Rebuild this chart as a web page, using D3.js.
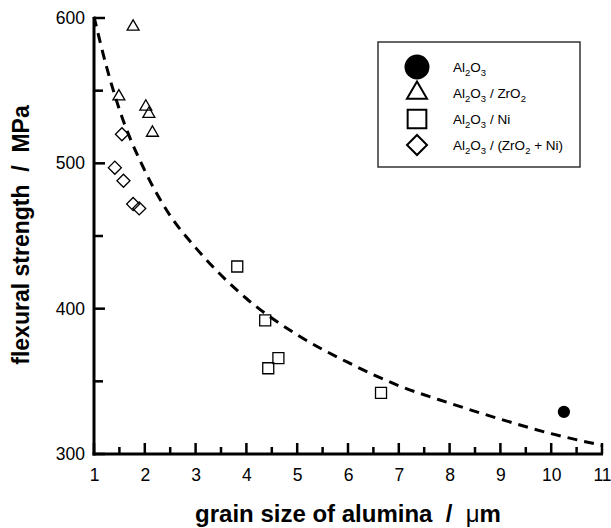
<!DOCTYPE html>
<html>
<head>
<meta charset="utf-8">
<script src="https://cdn.jsdelivr.net/npm/d3@7"></script>
<style>
  body { margin: 0; background: #fff; }
  svg { display: block; font-family: "Liberation Sans", Arial, sans-serif; }
  text { white-space: pre; }
</style>
</head>
<body>
<svg id="chart"></svg>
<script>
// data
const aluminaX = [10.25];
const aluminaY = [329];

const zro2X = [1.77, 1.49, 2.02, 2.08, 2.15];
const zro2Y = [594, 546, 539, 534, 521];

const niX = [3.82, 4.37, 4.63, 4.43, 6.65];
const niY = [429, 392, 366, 359, 342];

const zro2NiX = [1.55, 1.41, 1.58, 1.77, 1.89];
const zro2NiY = [520, 497, 488, 472, 469];

// dashed fit curve
const curveX = [1, 1.25, 1.5, 2, 2.5, 3, 4, 5, 6, 7, 8, 9, 10, 11];
const curveY = [601, 566, 537, 495, 464, 442, 407, 382, 363, 347, 335, 324, 314, 306];

const xTicks = [1, 2, 3, 4, 5, 6, 7, 8, 9, 10, 11];
const xMinor = [1.5, 2.5, 3.5, 4.5, 5.5, 6.5, 7.5, 8.5, 9.5, 10.5];
const yTicks = [300, 400, 500, 600];
const yMinor = [350, 450, 550];

const width = 611, height = 528;

const svg = d3.select("#chart")
    .attr("width", width)
    .attr("height", height);

const x = d3.scaleLinear().domain([1, 11]).range([94, 602]);
const y = d3.scaleLinear().domain([300, 600]).range([454, 18]);

//axes: labels from d3
const yAxis = d3.axisLeft(y).tickValues(yTicks).tickSize(0).tickPadding(9);
const xAxis = d3.axisBottom(x).tickValues(xTicks).tickSize(0).tickPadding(15);

svg.append("g").attr("transform", `translate(${x(1)},0)`).call(yAxis);
svg.append("g").attr("transform", `translate(0,${y(300)})`).call(xAxis);

svg.selectAll(".domain").remove();
svg.selectAll(".tick text")
    .attr("font-family", "Liberation Sans, Arial, sans-serif")
    .attr("font-size", 17.5)
    .attr("fill", "#000");

//axis frame and inward ticks as filled rects
const frame = svg.append("g").attr("fill", "#000");
frame.append("rect")
    .attr("x", x(1) - 1.5).attr("y", y(600) - 1)
    .attr("width", 3).attr("height", y(300) - y(600) + 2.5);
frame.append("rect")
    .attr("x", x(1) - 1.5).attr("y", y(300) - 1.5)
    .attr("width", x(11) - x(1) + 2.5).attr("height", 3);

frame.selectAll(".ytick")
    .data(yTicks.map(v => [v, 11]).concat(yMinor.map(v => [v, 9])))
    .enter().append("rect")
    .attr("x", x(1))
    .attr("y", d => y(d[0]) - 1.25)
    .attr("width", d => d[1])
    .attr("height", 2.5);

frame.selectAll(".xtick")
    .data(xTicks.map(v => [v, 11]).concat(xMinor.map(v => [v, 7])))
    .enter().append("rect")
    .attr("x", d => x(d[0]) - 1.25)
    .attr("y", d => y(300) - d[1])
    .attr("width", 2.5)
    .attr("height", d => d[1]);

//axis titles
svg.append("text")
    .attr("x", 348)
    .attr("y", 522)
    .attr("text-anchor", "middle")
    .attr("font-size", 24)
    .attr("font-weight", "bold")
    .text("grain size of alumina  /  ")
    .append("tspan")
    .attr("font-weight", "normal")
    .text("μ")
    .append("tspan")
    .attr("font-weight", "bold")
    .text("m");

svg.append("text")
    .attr("transform", "translate(29,235) rotate(-90)")
    .attr("text-anchor", "middle")
    .attr("font-size", 23)
    .attr("font-weight", "bold")
    .text("flexural strength  /  MPa");

//fit curve
const line = d3.line()
    .x((d, i) => x(curveX[i]))
    .y((d, i) => y(curveY[i]))
    .curve(d3.curveMonotoneX);

svg.append("path")
    .datum(curveX)
    .attr("d", line)
    .attr("fill", "none")
    .attr("stroke", "#000")
    .attr("stroke-width", 3)
    .attr("stroke-dasharray", "10,7");

//markers
const series = [
    { xs: aluminaX, ys: aluminaY, type: d3.symbolCircle, size: 95, legendSize: 415, fill: "#000", rot: 0 },
    { xs: zro2X, ys: zro2Y, type: d3.symbolTriangle, size: 62, legendSize: 175, fill: "none", rot: 0 },
    { xs: niX, ys: niY, type: d3.symbolSquare, size: 121, legendSize: 350, fill: "none", rot: 0 },
    { xs: zro2NiX, ys: zro2NiY, type: d3.symbolSquare, size: 85, legendSize: 200, fill: "none", rot: 45 }
];

series.forEach(s => {
    svg.append("g").selectAll("path")
        .data(s.xs)
        .enter()
        .append("path")
        .attr("d", d3.symbol().type(s.type).size(s.size))
        .attr("transform", (d, i) => `translate(${x(d)},${y(s.ys[i])}) rotate(${s.rot})`)
        .attr("fill", s.fill === "none" ? "#fff" : s.fill)
        .attr("fill-opacity", s.fill === "none" ? 0 : 1)
        .attr("stroke", "#000")
        .attr("stroke-width", 1.3);
});

//legend
const legend = svg.append("g");
legend.append("rect")
    .attr("x", 378)
    .attr("y", 42)
    .attr("width", 202)
    .attr("height", 125)
    .attr("fill", "#fff")
    .attr("stroke", "#333")
    .attr("stroke-width", 1.5);

const legendLabels = [
    [["Al", 0], ["2", 1], ["O", 0], ["3", 1]],
    [["Al", 0], ["2", 1], ["O", 0], ["3", 1], [" / ZrO", 0], ["2", 1]],
    [["Al", 0], ["2", 1], ["O", 0], ["3", 1], [" / Ni", 0]],
    [["Al", 0], ["2", 1], ["O", 0], ["3", 1], [" / (ZrO", 0], ["2", 1], [" + Ni)", 0]]
];

series.forEach((s, i) => {
    const cy = 67 + i * 26;
    legend.append("path")
        .attr("d", d3.symbol().type(s.type).size(s.legendSize))
        .attr("transform", `translate(417,${cy}) rotate(${s.rot})`)
        .attr("fill", s.fill === "none" ? "#fff" : s.fill)
        .attr("stroke", "#000")
        .attr("stroke-width", 2);

    const t = legend.append("text")
        .attr("x", 453)
        .attr("y", cy + 5)
        .attr("font-size", 13.5);
    let sub = false;
    legendLabels[i].forEach(([str, isSub]) => {
        const ts = t.append("tspan").text(str);
        if (isSub && !sub) { ts.attr("dy", 4).attr("font-size", 9.5); sub = true; }
        else if (isSub) { ts.attr("font-size", 9.5); }
        else if (sub) { ts.attr("dy", -4); sub = false; }
    });
});
</script>
</body>
</html>
